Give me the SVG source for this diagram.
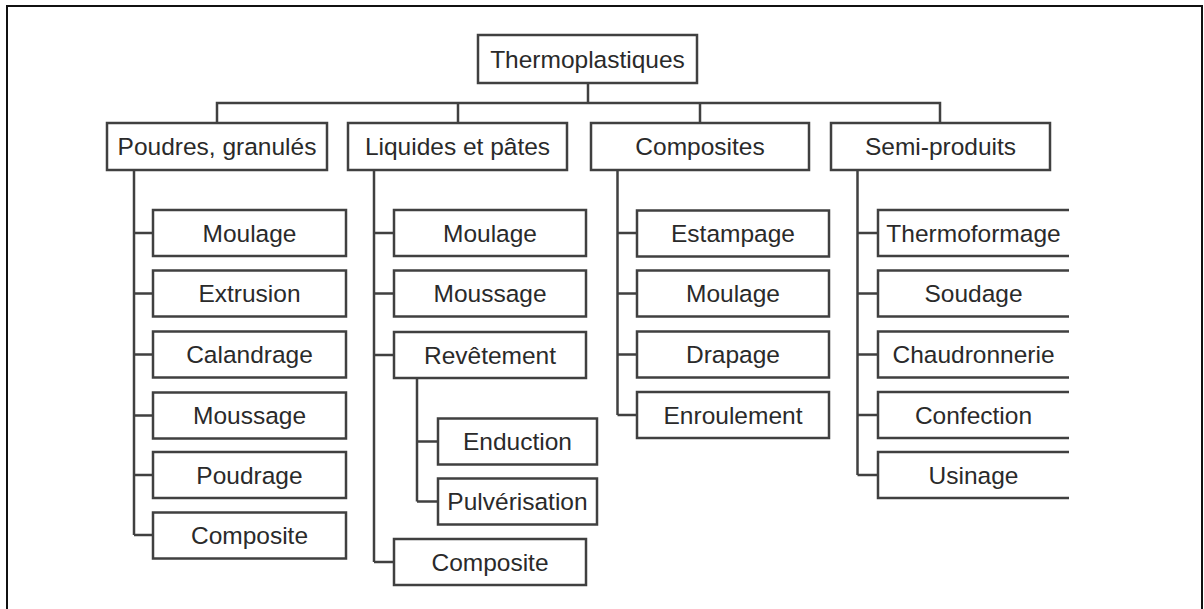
<svg xmlns="http://www.w3.org/2000/svg" width="1204" height="609" viewBox="0 0 1204 609">
<style>
.frame{fill:none;stroke:#111;stroke-width:2}
.box{fill:#fff;stroke:#404040;stroke-width:2.5}
.open{fill:none;stroke:#404040;stroke-width:2.5}
.conn path{fill:none;stroke:#404040;stroke-width:2.5}
text{font-family:"Liberation Sans",Arial,sans-serif;font-size:24.5px;fill:#2a2a2a;text-anchor:middle}
</style>
<rect x="0" y="0" width="1204" height="609" fill="#fff"/>
<path class="frame" d="M7,615 V6 H1202 V615"/>
<g class="conn" id="connectors">
<path d="M588,83 V103 M217,123 V103 H940 V123 M458,103 V123 M700,103 V123"/>
<path d="M134,170 V535 M134,233 H153 M134,293.5 H153 M134,354.5 H153 M134,415.5 H153 M134,475 H153 M134,535 H153"/>
<path d="M374,170 V562 M374,233 H394 M374,293.5 H394 M374,355 H394 M374,562 H394"/>
<path d="M417,378 V501.5 M417,441.5 H438 M417,501.5 H438"/>
<path d="M617.5,170 V415 M617.5,233 H637 M617.5,293.5 H637 M617.5,354.5 H637 M617.5,415 H637"/>
<path d="M857.5,170 V475 M857.5,233 H878 M857.5,293.5 H878 M857.5,354.5 H878 M857.5,415 H878 M857.5,475 H878"/>
</g>
<g id="root"><rect class="box" x="478" y="35" width="219" height="48"/><text x="587.5" y="67.5">Thermoplastiques</text></g>
<g id="poudres"><rect class="box" x="107" y="123" width="220" height="47"/><text x="217" y="155">Poudres, granulés</text></g>
<g id="liquides"><rect class="box" x="348" y="123" width="219" height="47"/><text x="457.5" y="155">Liquides et pâtes</text></g>
<g id="composites"><rect class="box" x="591" y="123" width="218" height="47"/><text x="700" y="155">Composites</text></g>
<g id="semi"><rect class="box" x="831" y="123" width="219" height="47"/><text x="940.5" y="155">Semi-produits</text></g>

<g id="p-moulage"><rect class="box" x="153" y="210" width="193" height="46"/><text x="249.5" y="241.5">Moulage</text></g>
<g id="p-extrusion"><rect class="box" x="153" y="270.5" width="193" height="46"/><text x="249.5" y="302">Extrusion</text></g>
<g id="p-calandrage"><rect class="box" x="153" y="331.5" width="193" height="46"/><text x="249.5" y="363">Calandrage</text></g>
<g id="p-moussage"><rect class="box" x="153" y="392.5" width="193" height="46"/><text x="249.5" y="424">Moussage</text></g>
<g id="p-poudrage"><rect class="box" x="153" y="452" width="193" height="46"/><text x="249.5" y="483.5">Poudrage</text></g>
<g id="p-composite"><rect class="box" x="153" y="512.5" width="193" height="46"/><text x="249.5" y="544">Composite</text></g>

<g id="l-moulage"><rect class="box" x="394" y="210" width="192" height="46"/><text x="490" y="241.5">Moulage</text></g>
<g id="l-moussage"><rect class="box" x="394" y="270.5" width="192" height="46"/><text x="490" y="302">Moussage</text></g>
<g id="l-revetement"><rect class="box" x="394" y="332" width="192" height="46"/><text x="490" y="363.5">Revêtement</text></g>
<g id="l-enduction"><rect class="box" x="438" y="418.5" width="159" height="46"/><text x="517.5" y="450">Enduction</text></g>
<g id="l-pulverisation"><rect class="box" x="438" y="478.5" width="159" height="46"/><text x="517.5" y="510">Pulvérisation</text></g>
<g id="l-composite"><rect class="box" x="394" y="539" width="192" height="46"/><text x="490" y="570.5">Composite</text></g>

<g id="c-estampage"><rect class="box" x="637" y="210.5" width="192" height="46"/><text x="733" y="242">Estampage</text></g>
<g id="c-moulage"><rect class="box" x="637" y="270.5" width="192" height="46"/><text x="733" y="302">Moulage</text></g>
<g id="c-drapage"><rect class="box" x="637" y="331.5" width="192" height="46"/><text x="733" y="363">Drapage</text></g>
<g id="c-enroulement"><rect class="box" x="637" y="392" width="192" height="46"/><text x="733" y="423.5">Enroulement</text></g>

<g id="s-thermoformage"><path class="open" d="M1069,210 H878 V256 H1069"/><text x="973.5" y="241.5">Thermoformage</text></g>
<g id="s-soudage"><path class="open" d="M1069,270.5 H878 V316.5 H1069"/><text x="973.5" y="302">Soudage</text></g>
<g id="s-chaudronnerie"><path class="open" d="M1069,331.5 H878 V377.5 H1069"/><text x="973.5" y="363">Chaudronnerie</text></g>
<g id="s-confection"><path class="open" d="M1069,392 H878 V438 H1069"/><text x="973.5" y="423.5">Confection</text></g>
<g id="s-usinage"><path class="open" d="M1069,452 H878 V498 H1069"/><text x="973.5" y="483.5">Usinage</text></g>
</svg>
